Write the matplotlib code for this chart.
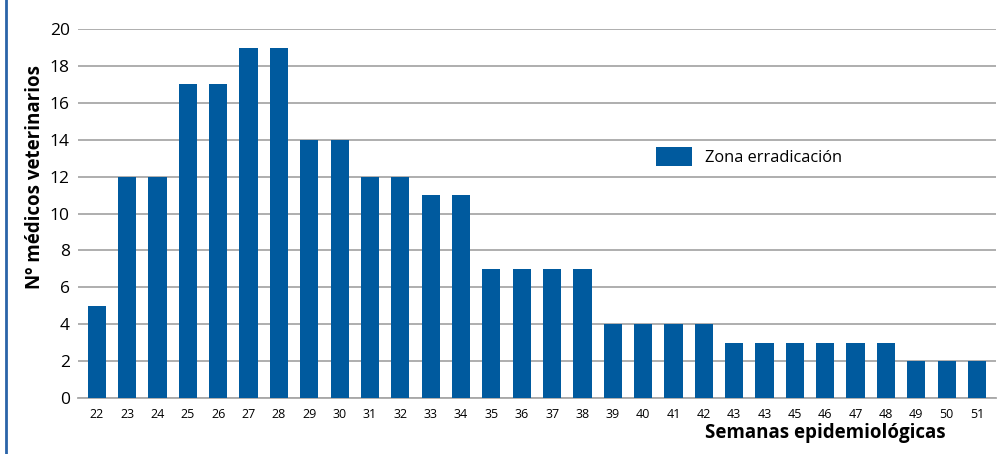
import matplotlib
matplotlib.use('Agg')
import matplotlib.pyplot as plt
from matplotlib.lines import Line2D

plt.rcParams['font.family'] = ['Open Sans', 'DejaVu Sans']

# data
semanas = ['22', '23', '24', '25', '26', '27', '28', '29', '30', '31',
           '32', '33', '34', '35', '36', '37', '38', '39', '40', '41',
           '42', '43', '43', '45', '46', '47', '48', '49', '50', '51']
medicos = [5, 12, 12, 17, 17, 19, 19, 14, 14, 12,
           12, 11, 11, 7, 7, 7, 7, 4, 4, 4,
           4, 3, 3, 3, 3, 3, 3, 2, 2, 2]
yticks = list(range(0, 21, 2))

bar_color = '#005a9e'
grid_color = '#a8a8a8'

fig = plt.figure(figsize=(10.03, 4.54), dpi=100)
ax = fig.add_axes([0.0778, 0.1233, 0.915, 0.8127])

x = list(range(len(semanas)))
ax.bar(x, medicos, width=0.6, color=bar_color, zorder=3, label='Zona erradicación')

ax.set_xlim(-0.62, len(semanas) - 0.38)
ax.set_ylim(0, 20)
ax.set_yticks(yticks)
ax.set_xticks(x)
ax.set_xticklabels(semanas, fontsize=9)
ax.tick_params(axis='y', labelsize=12.5, length=0, pad=6)
ax.tick_params(axis='x', length=0, pad=7)

ax.grid(axis='y', color=grid_color, linewidth=1.3, zorder=0)
for s in ['left', 'right', 'top']:
    ax.spines[s].set_visible(False)
ax.spines['bottom'].set_color(grid_color)
ax.spines['bottom'].set_linewidth(1.3)

ax.set_ylabel('Nº médicos veterinarios', fontsize=13.5, fontweight='bold')
ax.yaxis.set_label_coords(-0.036, 0.6)
fig.text(0.943, 0.025, 'Semanas epidemiológicas', fontsize=13.5,
         fontweight='bold', ha='right', va='bottom')

ax.legend(loc='center left', bbox_to_anchor=(0.614, 0.655), frameon=False,
          fontsize=11.8, handlelength=2.2, handleheight=1.4)

# blue rule on the left edge
fig.add_artist(Line2D([0.006, 0.006], [0, 1], transform=fig.transFigure,
                      color='#2a64a8', linewidth=2))

fig.savefig('out.png', dpi=100, facecolor='white')
